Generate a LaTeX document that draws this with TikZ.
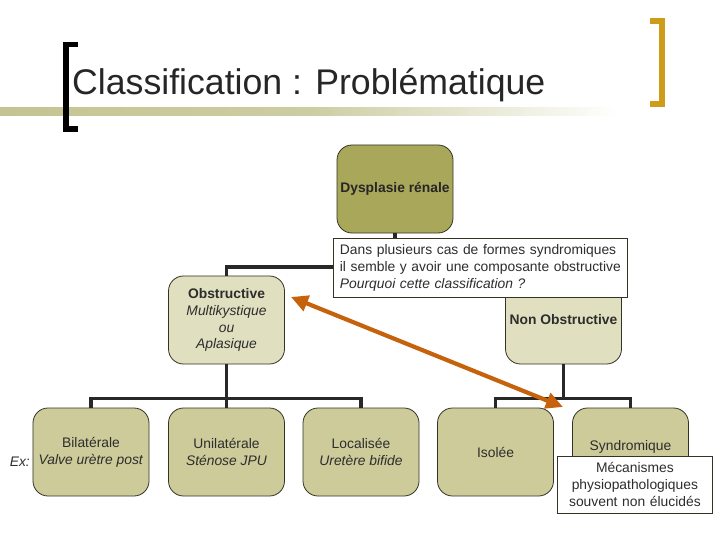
\documentclass[tikz,border=0pt]{standalone}
\usepackage{fontspec}
\setmainfont{Liberation Sans}
\usetikzlibrary{arrows.meta}
\definecolor{olivedark}{RGB}{169,168,90}
\definecolor{olivelight}{RGB}{224,223,192}
\definecolor{olivemid}{RGB}{204,203,153}
\definecolor{boxline}{RGB}{51,51,38}
\definecolor{linkgray}{RGB}{40,40,40}
\definecolor{txtgray}{RGB}{45,45,45}
\definecolor{arrorange}{RGB}{198,98,12}
\definecolor{goldbar}{RGB}{207,155,26}
\definecolor{barolive}{RGB}{196,196,146}

\begin{document}
\begin{tikzpicture}[x=1bp, y=-1bp,
	box/.style={draw=boxline, line width=0.8bp, rounded corners=15bp, minimum width=116bp, minimum height=88bp, align=center, text=txtgray, font=\fontsize{13.9}{17}\selectfont, inner sep=2bp},
	link/.style={draw=linkgray, line width=3.5bp},
	note/.style={draw=boxline, fill=white, line width=0.8bp, text=txtgray, font=\fontsize{13.9}{17}\selectfont, inner xsep=6.5bp, inner ysep=3.5bp}]

		\useasboundingbox (0,0) rectangle (720,540);

		\shade[left color=barolive, right color=white, middle color=barolive!85] (0,108) rectangle (620,116);
		\draw[line width=5.5bp] (78,44.5) -- (66,44.5) -- (66,129) -- (78,129);
		\draw[goldbar, line width=6bp] (650,21.5) -- (662,21.5) -- (662,104.5) -- (650,104.5);
		\node[anchor=base west, font=\fontsize{35.8}{40}\selectfont, text=black!85, inner sep=0pt] (title) at (72,95) {Classification : Problématique};

		\node[box, fill=olivedark, text=black!85, font=\fontsize{13.9}{17}\selectfont\bfseries] (dys) at (395,189) {Dysplasie rénale};
		\node[box, fill=olivelight] (obs) at (226.5,320) {\textbf{Obstructive}\\\textit{Multikystique}\\\textit{ou}\\\textit{Aplasique}};
		\node[box, fill=olivelight] (nonobs) at (563.5,320) {\textbf{Non Obstructive}};

		\node[box, fill=olivemid] (bil) at (91,452) {Bilatérale\\\textit{Valve urètre post}};
		\node[box, fill=olivemid] (uni) at (226.5,452) {Unilatérale\\\textit{Sténose JPU}};
		\node[box, fill=olivemid] (loc) at (361,452) {Localisée\\\textit{Uretère bifide}};
		\node[box, fill=olivemid] (iso) at (495.5,452) {Isolée};
		\node[box, fill=olivemid] (syn) at (630.5,452) {Syndromique\\[-8bp]\strut};
		\node[anchor=base east, text=txtgray, font=\fontsize{13.9}{17}\selectfont\itshape, inner sep=0pt] (ex) at (30,466) {Ex:};

		\coordinate (j1) at (395,267);
		\coordinate (j2) at (226.5,398.5);
		\coordinate (j3) at (563.5,398.5);
		\draw[link] (dys.south) -- (j1);
		\draw[link] (obs.north) |- (j1) -| (nonobs.north);
		\draw[link] (obs.south) -- (j2) -- (uni.north);
		\draw[link] (bil.north) |- (j2) -| (loc.north);
		\draw[link] (nonobs.south) -- (j3);
		\draw[link] (iso.north) |- (j3) -| (syn.north);

		\node[note, anchor=north west, text width=281bp, align=left, minimum height=59bp] (why) at (333,238) {Dans plusieurs cas de formes syndromiques\\il semble y avoir une composante obstructive\\\textit{Pourquoi cette classification ?}};
		\node[note, anchor=north west, text width=142bp, align=center, minimum height=57bp] (meca) at (557,456) {Mécanismes\\physiopathologiques\\souvent non élucidés};

		\coordinate (tipA) at (291,297);
		\coordinate (tipB) at (563,407);
		\draw[arrorange, line width=4.2bp, {Triangle[length=17bp,width=16bp]}-{Triangle[length=17bp,width=16bp]}] (tipA) -- (tipB);

	\end{tikzpicture}
\end{document}
